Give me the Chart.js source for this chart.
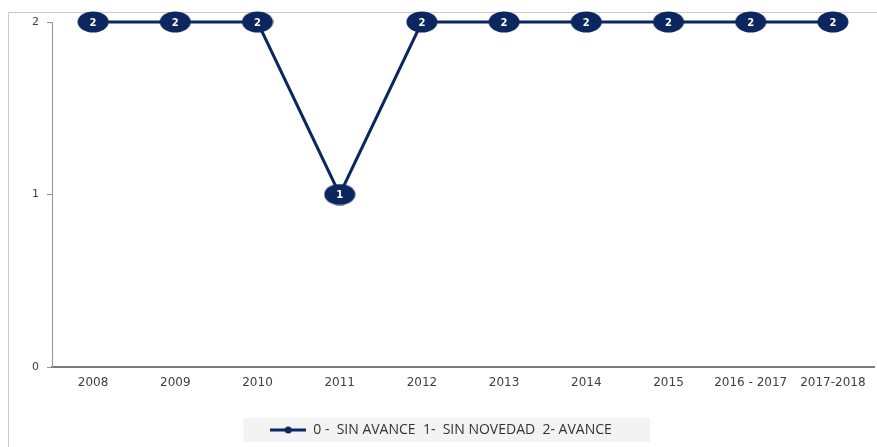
<!DOCTYPE html>
<html>
<head>
<meta charset="utf-8">
<script src="https://cdn.jsdelivr.net/npm/chart.js@4.4.1/dist/chart.umd.min.js"></script>
<style>
  html, body { margin: 0; padding: 0; background: #fff; }
  #wrap { position: absolute; left: 0; top: 0; width: 877px; height: 447px; }
</style>
</head>
<body>
<div id="wrap"><canvas id="avanceChart"></canvas></div>
<script>
// Years and status values (0 sin avance, 1 sin novedad, 2 avance)
const years = ['2008', '2009', '2010', '2011', '2012', '2013', '2014', '2015', '2016 - 2017', '2017-2018'];
const status = [2, 2, 2, 1, 2, 2, 2, 2, 2, 2];
const yTicks = [0, 1, 2];
const seriesLabel = '0 -  SIN AVANCE  1-  SIN NOVEDAD  2- AVANCE';

const navy = '#0c2660';

// Oval marker used for each point
function makeOval(w, h) {
    const c = document.createElement('canvas');
    c.width = w; c.height = h;
    const g = c.getContext('2d');
    g.fillStyle = navy;
    g.beginPath();
    g.ellipse(w / 2, h / 2, w / 2 - 0.5, h / 2 - 0.5, 0, 0, Math.PI * 2);
    g.fill();
    return c;
}

// Legend symbol: short line with a dot in the middle
function makeLegendIcon() {
    const c = document.createElement('canvas');
    c.width = 36; c.height = 10;
    const g = c.getContext('2d');
    g.strokeStyle = navy;
    g.lineWidth = 3;
    g.beginPath();
    g.moveTo(0, 5); g.lineTo(36, 5);
    g.stroke();
    g.fillStyle = navy;
    g.beginPath();
    g.arc(18, 5, 3.5, 0, Math.PI * 2);
    g.fill();
    return c;
}

const oval = makeOval(32, 22);

// Outer frame and grey legend background
const framePlugin = {
    id: 'frame',
    beforeDraw(chart) {
        const ctx = chart.ctx;
        ctx.save();
        ctx.strokeStyle = '#c8c8c8';
        ctx.lineWidth = 1;
        ctx.beginPath();
        ctx.moveTo(8.5, chart.height);
        ctx.lineTo(8.5, 12.5);
        ctx.lineTo(chart.width, 12.5);
        ctx.stroke();
        const box = chart.legend.legendHitBoxes[0];
        if (box) {
            const cy = box.top + box.height / 2;
            ctx.fillStyle = '#f3f3f3';
            ctx.fillRect(box.left - 27, cy - 12, box.width + 65, 24);
        }
        ctx.restore();
    }
};

// White value labels inside the markers
const valueLabels = {
    id: 'valueLabels',
    afterDatasetsDraw(chart) {
        const ctx = chart.ctx;
        const meta = chart.getDatasetMeta(0);
        ctx.save();
        ctx.fillStyle = '#ffffff';
        ctx.font = 'bold 10px "DejaVu Sans"';
        ctx.textAlign = 'center';
        ctx.textBaseline = 'middle';
        meta.data.forEach((pt, i) => {
            ctx.fillText(String(status[i]), pt.x, pt.y + 1);
        });
        ctx.restore();
    }
};

const ctx = document.getElementById('avanceChart').getContext('2d');
new Chart(ctx, {
    type: 'line',
    data: {
        labels: years,
        datasets: [{
            label: seriesLabel,
            data: status,
            borderColor: navy,
            backgroundColor: navy,
            borderWidth: 3,
            pointStyle: oval,
            pointRadius: 16,
            tension: 0,
            clip: false
        }]
    },
    options: {
        responsive: true,
        maintainAspectRatio: false,
        animation: false,
        layout: { autoPadding: false, padding: { left: 8, right: 3, top: 22, bottom: 0 } },
        plugins: {
            tooltip: { enabled: false },
            legend: {
                position: 'bottom',
                labels: {
                    usePointStyle: true,
                    pointStyleWidth: 36,
                    generateLabels(chart) {
                        return [{
                            text: seriesLabel,
                            pointStyle: makeLegendIcon(),
                            fontColor: '#333',
                            datasetIndex: 0
                        }];
                    },
                    color: '#333',
                    font: { family: 'Open Sans', size: 14 },
                    padding: 2
                }
            }
        },
        scales: {
            x: {
                offset: true,
                grid: { display: false, drawTicks: false },
                border: { color: '#7a7a7a', width: 2 },
                ticks: {
                    color: '#404040',
                    font: { family: 'DejaVu Sans', size: 12 },
                    padding: 9,
                    maxRotation: 0,
                    autoSkip: false
                },
                afterFit(scale) {
                    scale.height = 54;
                    scale.paddingLeft = 0;
                    scale.paddingRight = 0;
                }
            },
            y: {
                min: 0,
                max: 2,
                afterBuildTicks(scale) { scale.ticks = yTicks.map(v => ({ value: v })); },
                grid: { drawOnChartArea: false, tickLength: 5, color: '#8796b8' },
                border: { color: '#8796b8', width: 1 },
                ticks: {
                    color: '#404040',
                    font: { family: 'DejaVu Sans', size: 11 },
                    padding: 8
                },
                afterFit(scale) { scale.width = 44; }
            }
        }
    },
    plugins: [framePlugin, valueLabels]
});
</script>
</body>
</html>
